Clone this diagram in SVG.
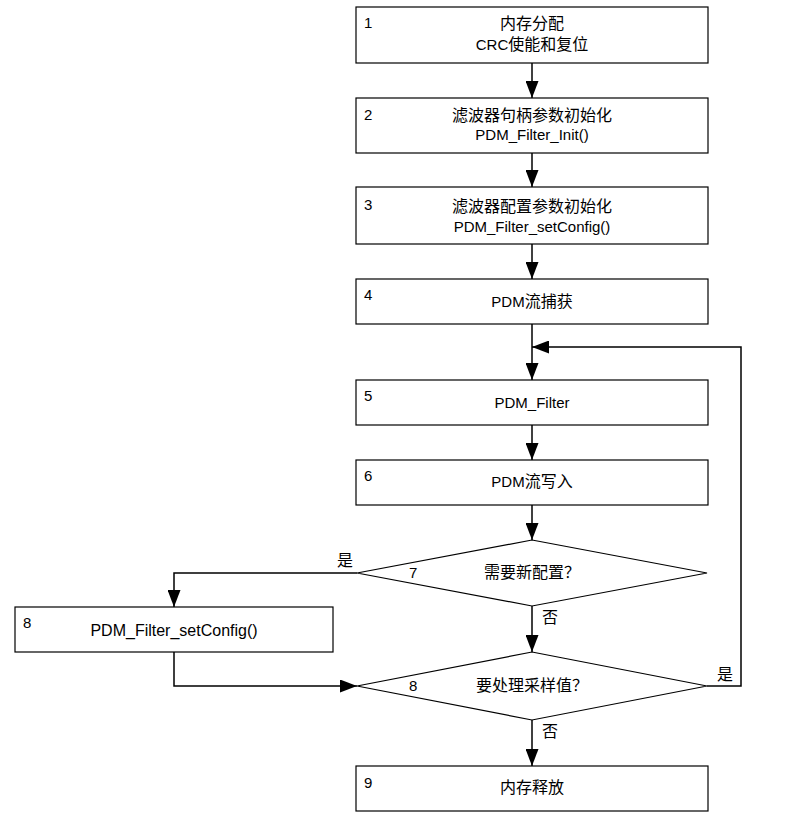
<svg xmlns="http://www.w3.org/2000/svg" width="798" height="816" viewBox="0 0 798 816">
<defs>
<style>
.box{fill:#fff;stroke:#000;stroke-width:1.2}
.t{font-family:"Liberation Sans","Noto Sans CJK SC",sans-serif;font-size:15px;fill:#000}
.cj{font-size:16px}
.c{text-anchor:middle}
.ln{fill:none;stroke:#000;stroke-width:1.5}
</style>
<marker id="ah" markerWidth="17" markerHeight="13" refX="17" refY="6.5" viewBox="0 0 17 13" markerUnits="userSpaceOnUse" orient="auto">
<path d="M0,0 L17,6.5 L0,13 Z" fill="#000"/>
</marker>
</defs>
<rect width="798" height="816" fill="#fff"/>
<g id="connectors">
<line class="ln" x1="532" y1="63" x2="532" y2="98" marker-end="url(#ah)"/>
<line class="ln" x1="532" y1="153" x2="532" y2="187" marker-end="url(#ah)"/>
<line class="ln" x1="532" y1="244" x2="532" y2="279" marker-end="url(#ah)"/>
<line class="ln" x1="532" y1="324" x2="532" y2="380" marker-end="url(#ah)"/>
<line class="ln" x1="532" y1="425" x2="532" y2="460" marker-end="url(#ah)"/>
<line class="ln" x1="532" y1="505" x2="532" y2="540" marker-end="url(#ah)"/>
<line class="ln" x1="532" y1="606" x2="532" y2="652" marker-end="url(#ah)"/>
<line class="ln" x1="532" y1="720" x2="532" y2="766" marker-end="url(#ah)"/>
<polyline class="ln" points="357,573 174,573 174,607" marker-end="url(#ah)"/>
<polyline class="ln" points="174,652 174,686 357,686" marker-end="url(#ah)"/>
<polyline class="ln" points="707,686 741,686 741,347 532,347" marker-end="url(#ah)"/>
<text class="t cj" x="337" y="566">是</text>
<text class="t cj" x="542" y="623">否</text>
<text class="t cj" x="542" y="737">否</text>
<text class="t cj" x="717" y="680">是</text>
</g>
<g id="n1"><rect class="box" x="356" y="7" width="352" height="56"/><text class="t" x="364" y="28">1</text><text class="t c cj" x="532" y="29">内存分配</text><text class="t c" x="532" y="50">CRC<tspan class="cj">使能和复位</tspan></text></g>
<g id="n2"><rect class="box" x="356" y="98" width="352" height="55"/><text class="t" x="364" y="120">2</text><text class="t c cj" x="532" y="121">滤波器句柄参数初始化</text><text class="t c" x="532" y="140">PDM_Filter_Init()</text></g>
<g id="n3"><rect class="box" x="356" y="187" width="352" height="57"/><text class="t" x="364" y="210">3</text><text class="t c cj" x="532" y="212">滤波器配置参数初始化</text><text class="t c" x="532" y="232">PDM_Filter_setConfig()</text></g>
<g id="n4"><rect class="box" x="356" y="279" width="352" height="45"/><text class="t" x="364" y="300">4</text><text class="t c" x="532" y="307">PDM<tspan class="cj">流捕获</tspan></text></g>
<g id="n5"><rect class="box" x="356" y="380" width="352" height="45"/><text class="t" x="364" y="401">5</text><text class="t c" x="532" y="408">PDM_Filter</text></g>
<g id="n6"><rect class="box" x="356" y="460" width="352" height="45"/><text class="t" x="364" y="481">6</text><text class="t c" x="532" y="487">PDM<tspan class="cj">流写入</tspan></text></g>
<g id="n7"><polygon class="box" points="532,540 707,573 532,606 357,573"/><text class="t" x="409" y="578">7</text><text class="t c cj" x="532" y="578">需要新配置？</text></g>
<g id="n8a"><rect class="box" x="15" y="607" width="318" height="45"/><text class="t" x="23" y="628">8</text><text class="t c" x="174" y="636" style="font-size:16px">PDM_Filter_setConfig()</text></g>
<g id="n8b"><polygon class="box" points="532,652 707,686 532,720 357,686"/><text class="t" x="409" y="691">8</text><text class="t c cj" x="532" y="691">要处理采样值？</text></g>
<g id="n9"><rect class="box" x="356" y="766" width="352" height="45"/><text class="t" x="364" y="788">9</text><text class="t c cj" x="532" y="793">内存释放</text></g>
</svg>
